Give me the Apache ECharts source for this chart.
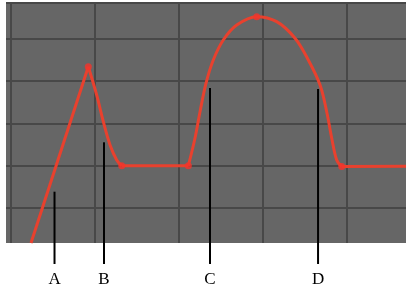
<!DOCTYPE html>
<html>
<head>
<meta charset="utf-8">
<script src="https://cdn.jsdelivr.net/npm/echarts@6/dist/echarts.min.js"></script>
<style>
  html, body { margin: 0; padding: 0; background: #ffffff; }
  #chart { width: 411px; height: 300px; }
</style>
</head>
<body>
<div id="chart"></div>
<script>
// ---- data (axis units: vertical grid lines at x = 0..4, horizontal at y = 1..5) ----
const riseX = [0.238, 0.920];
const riseY = [0.172, 4.344];

const fallX = [0.920, 1.020, 1.099, 1.179, 1.258, 1.318];
const fallY = [4.344, 3.675, 3.043, 2.491, 2.136, 2.000];

const flat1X = [1.318, 2.111];
const flat1Y = [2.000, 2.000];

const archX = [2.111, 2.190, 2.250, 2.321, 2.408, 2.527, 2.687, 2.925, 3.163, 3.381, 3.539, 3.679, 3.758, 3.818, 3.877, 3.937];
const archY = [2.000, 2.650, 3.279, 3.951, 4.503, 4.976, 5.331, 5.528, 5.410, 5.017, 4.503, 3.911, 3.279, 2.650, 2.136, 1.980];

const flat2X = [3.937, 4.702];
const flat2Y = [1.980, 1.990];

const markerX = [0.920, 1.318, 2.111, 2.925, 3.937];
const markerY = [4.344, 2.000, 2.000, 5.528, 1.980];

const annoLabels = ['A', 'B', 'C', 'D'];
const annoX      = [0.518, 1.107, 2.369, 3.655];
const annoTopY   = [1.386, 2.555, 3.840, 3.817];
const annoBottomY = -0.325;
const annoLabelY  = -0.692;

const xMin = -0.0595, xMax = 4.702;
const yMin = 0.1716, yMax = 5.852;

// ---- build ----
const zip = (xs, ys) => xs.map((x, i) => [x, ys[i]]);
const LINE_COLOR = '#e8412e';

function lineSeries(xs, ys, smooth) {
  return {
    type: 'line',
    data: zip(xs, ys),
    smooth: smooth,
    showSymbol: false,
    symbol: 'none',
    lineStyle: { color: LINE_COLOR, width: 3 },
    z: 3
  };
}

const annoData = annoX.map((x, i) => [x, annoTopY[i], annoBottomY, annoLabelY]);

const chart = echarts.init(document.getElementById('chart'), null, { renderer: 'canvas' });
chart.setOption({
  animation: false,
  backgroundColor: '#ffffff',
  grid: {
    left: 6, right: 5, top: 3, bottom: 57,
    show: true, backgroundColor: '#666666', borderWidth: 0,
    containLabel: false
  },
  xAxis: {
    type: 'value', min: xMin, max: xMax,
    axisLine: { show: false }, axisTick: { show: false }, axisLabel: { show: false },
    splitLine: { show: true, showMinLine: false, showMaxLine: false, lineStyle: { color: '#484848', width: 2 } }
  },
  yAxis: {
    type: 'value', min: yMin, max: yMax,
    axisLine: { show: false }, axisTick: { show: false }, axisLabel: { show: false },
    splitLine: { show: true, showMinLine: false, showMaxLine: true, lineStyle: { color: '#484848', width: 2 } }
  },
  series: [
    lineSeries(riseX, riseY, false),
    lineSeries(fallX, fallY, 0.4),
    lineSeries(flat1X, flat1Y, false),
    lineSeries(archX, archY, 0.35),
    lineSeries(flat2X, flat2Y, false),
    {
      type: 'scatter',
      data: zip(markerX, markerY),
      symbol: 'circle',
      symbolSize: 7,
      itemStyle: { color: '#f5332a' },
      z: 4
    },
    {
      type: 'custom',
      clip: false,
      data: annoData,
      encode: { x: 0, y: [1, 2, 3] },
      z: 5,
      renderItem: function (params, api) {
        const top = api.coord([api.value(0), api.value(1)]);
        const bot = api.coord([api.value(0), api.value(2)]);
        const lab = api.coord([api.value(0), api.value(3)]);
        return {
          type: 'group',
          children: [
            {
              type: 'line',
              shape: { x1: top[0], y1: top[1], x2: bot[0], y2: bot[1] },
              style: { stroke: '#000000', lineWidth: 2 }
            },
            {
              type: 'text',
              x: lab[0], y: lab[1],
              style: {
                text: annoLabels[params.dataIndex],
                fill: '#000000',
                fontSize: 17,
                fontFamily: '"Liberation Serif", "DejaVu Serif", serif',
                align: 'center',
                verticalAlign: 'middle'
              }
            }
          ]
        };
      }
    }
  ]
});
</script>
</body>
</html>
